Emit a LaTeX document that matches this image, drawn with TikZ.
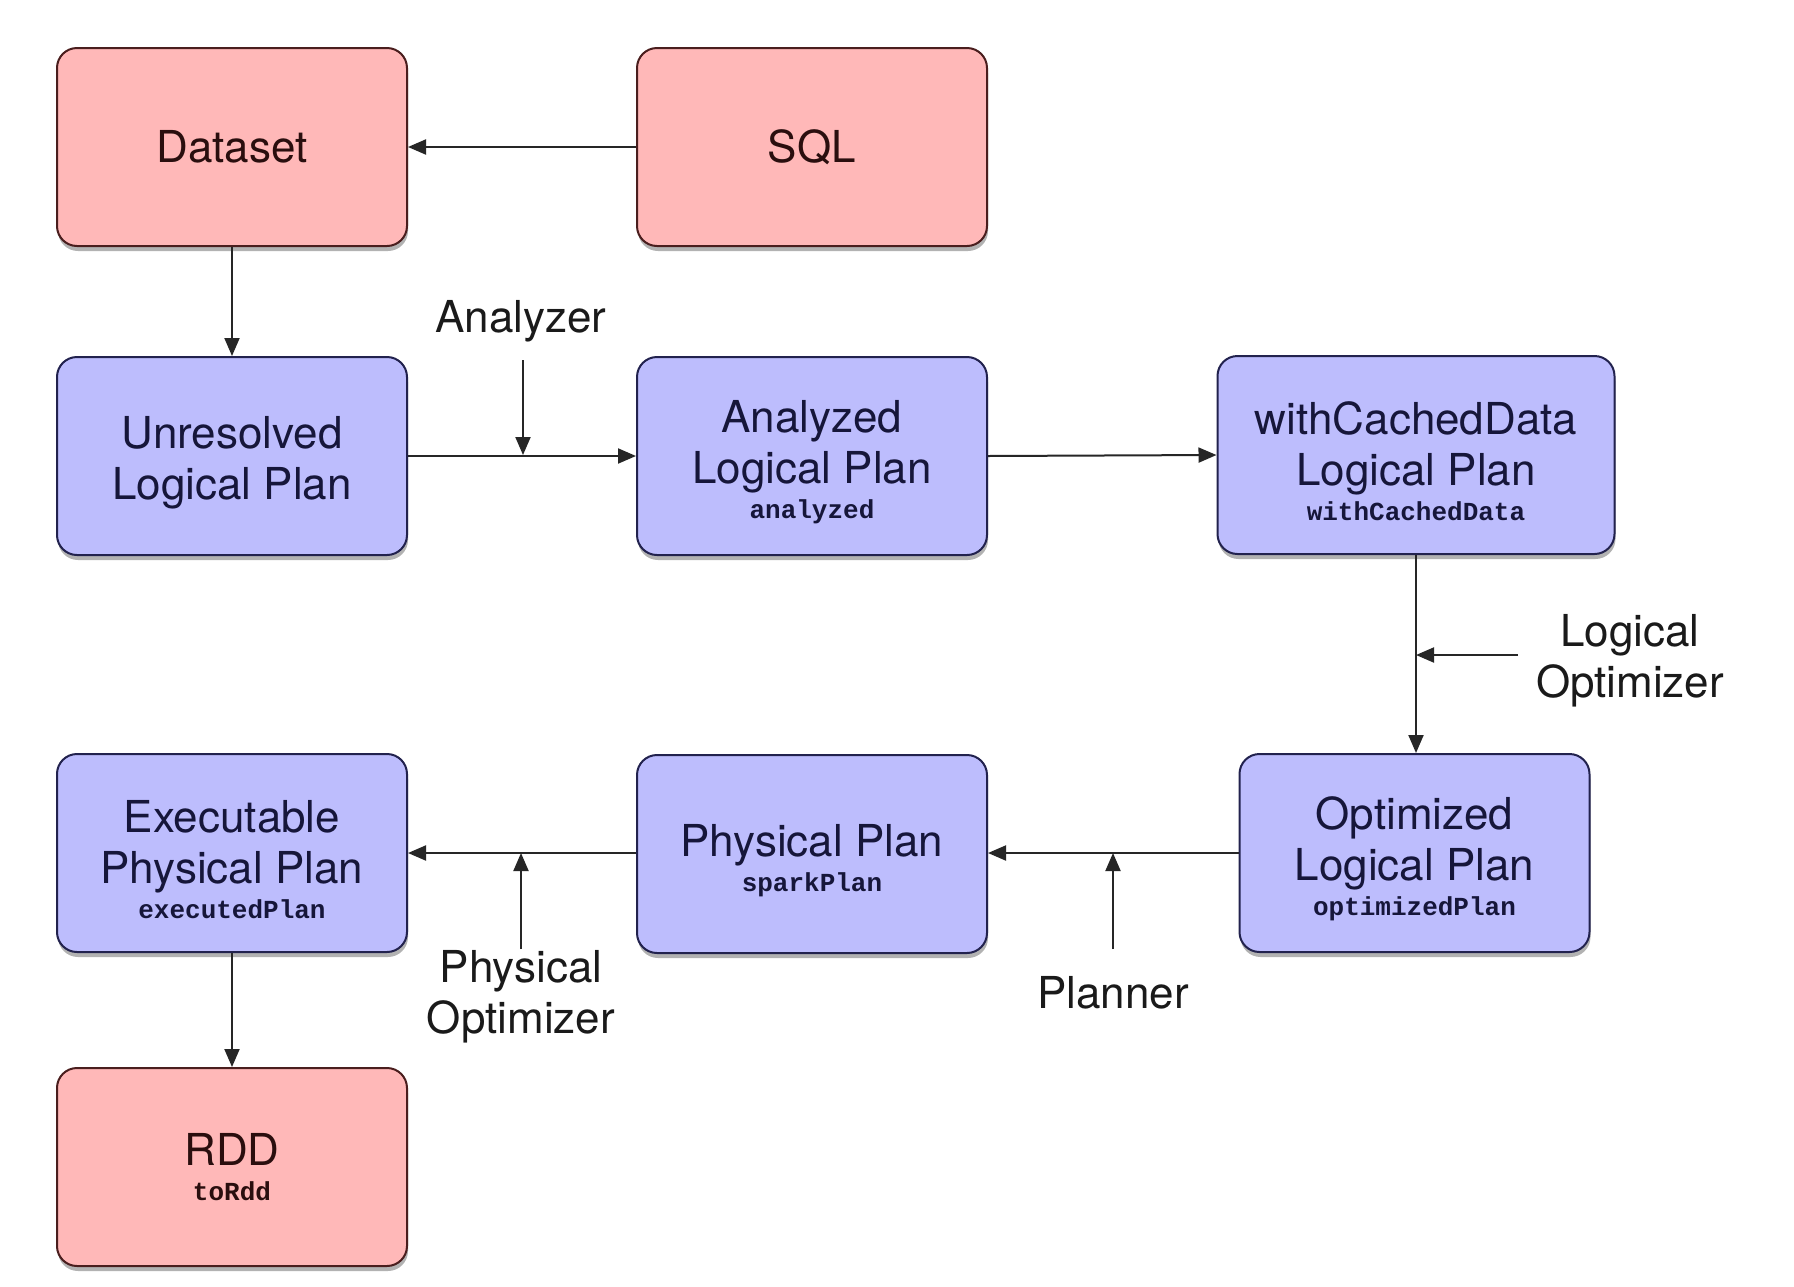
\documentclass[tikz,border=0pt]{standalone}
\usepackage{fontspec}
\setmainfont{TeX Gyre Heros}
\newfontfamily\codefont{Liberation Mono}
\usetikzlibrary{arrows.meta,shadows}

\definecolor{pinkfill}{HTML}{FFB8B8}
\definecolor{pinkdraw}{HTML}{4A1E1E}
\definecolor{pinktext}{HTML}{2A0E0E}
\definecolor{bluefill}{HTML}{BDBDFD}
\definecolor{bluedraw}{HTML}{22224E}
\definecolor{bluetext}{HTML}{16163A}
\definecolor{lbltext}{HTML}{1A1A1A}

\newcommand{\codetxt}[1]{{\fontsize{13}{15}\selectfont\codefont\bfseries #1}}
\newcommand{\topstrut}{\rule{0pt}{22.5pt}}

\begin{document}
\begin{tikzpicture}[x=0.5pt,y=-0.5pt,
 box/.style={rectangle, rounded corners=10pt, line width=1pt,
   minimum width=175pt, minimum height=99pt, align=center, inner sep=0pt,
   font=\fontsize{22}{25.5}\selectfont,
   drop shadow={shadow xshift=0.5pt, shadow yshift=-2.5pt, opacity=0.3, fill=black}},
 pinkbox/.style={box, fill=pinkfill, draw=pinkdraw, text=pinktext},
 bluebox/.style={box, fill=bluefill, draw=bluedraw, text=bluetext},
 lbl/.style={align=center, font=\fontsize{22}{25.5}\selectfont, text=lbltext, inner sep=0pt},
 conn/.style={line width=1pt, draw=black!85, -{Triangle[length=9pt,width=7.5pt]}},
]
\useasboundingbox (0,0) rectangle (1794,1286);
\fill[white] (0,0) rectangle (1794,1286);

% boxes
\node[pinkbox] (ds)  at (232,147) {Dataset};
\node[pinkbox] (sql) at (812,147) {SQL};
\node[bluebox] (ulp) at (232,456) {\topstrut Unresolved\\Logical Plan};
\node[bluebox] (alp) at (812,456) {\topstrut Analyzed\\Logical Plan\\[-8pt]\codetxt{analyzed}};
\node[bluebox, minimum width=198.5pt] (wcd) at (1416,455) {\topstrut withCachedData\\Logical Plan\\[-8pt]\codetxt{withCachedData}};
\node[bluebox] (olp) at (1414.5,853) {\topstrut Optimized\\Logical Plan\\[-8pt]\codetxt{optimizedPlan}};
\node[bluebox] (pp)  at (812,854) {\topstrut Physical Plan\\[-8pt]\codetxt{sparkPlan}};
\node[bluebox] (epp) at (232,853) {\topstrut Executable\\Physical Plan\\[-8pt]\codetxt{executedPlan}};
\node[pinkbox] (rdd) at (232,1167) {RDD\\[-8pt]\codetxt{toRdd}};

% labels
\node[lbl, anchor=base] (an) at (521,332) {Analyzer};
\node[lbl] (lo) at (1630,661) {Logical\\Optimizer};
\node[lbl] (po) at (521,997) {Physical\\Optimizer};
\node[lbl, anchor=base] (pl) at (1113,1008) {Planner};

% free ends of label arrows
\coordinate (anS) at (523,360);
\coordinate (anE) at (523,455);
\coordinate (loS) at (1518,655);
\coordinate (loE) at (1416,655);
\coordinate (plS) at (1113,949);
\coordinate (plE) at (1113,853);
\coordinate (poS) at (521,949);
\coordinate (poE) at (521,853);

% connectors
\draw[conn] (sql.west) -- (ds.east);
\draw[conn] (ds.south) -- (ulp.north);
\draw[conn] (ulp.east) -- (alp.west);
\draw[conn] (alp.east) -- (wcd.west);
\draw[conn] (wcd.south) -- (wcd.south |- olp.north);
\draw[conn] (olp.west) -- (olp.west -| pp.east);
\draw[conn] (pp.west |- epp.east) -- (epp.east);
\draw[conn] (epp.south) -- (rdd.north);

\draw[conn] (anS) -- (anE);
\draw[conn] (loS) -- (loE);
\draw[conn] (plS) -- (plE);
\draw[conn] (poS) -- (poE);
\end{tikzpicture}
\end{document}
